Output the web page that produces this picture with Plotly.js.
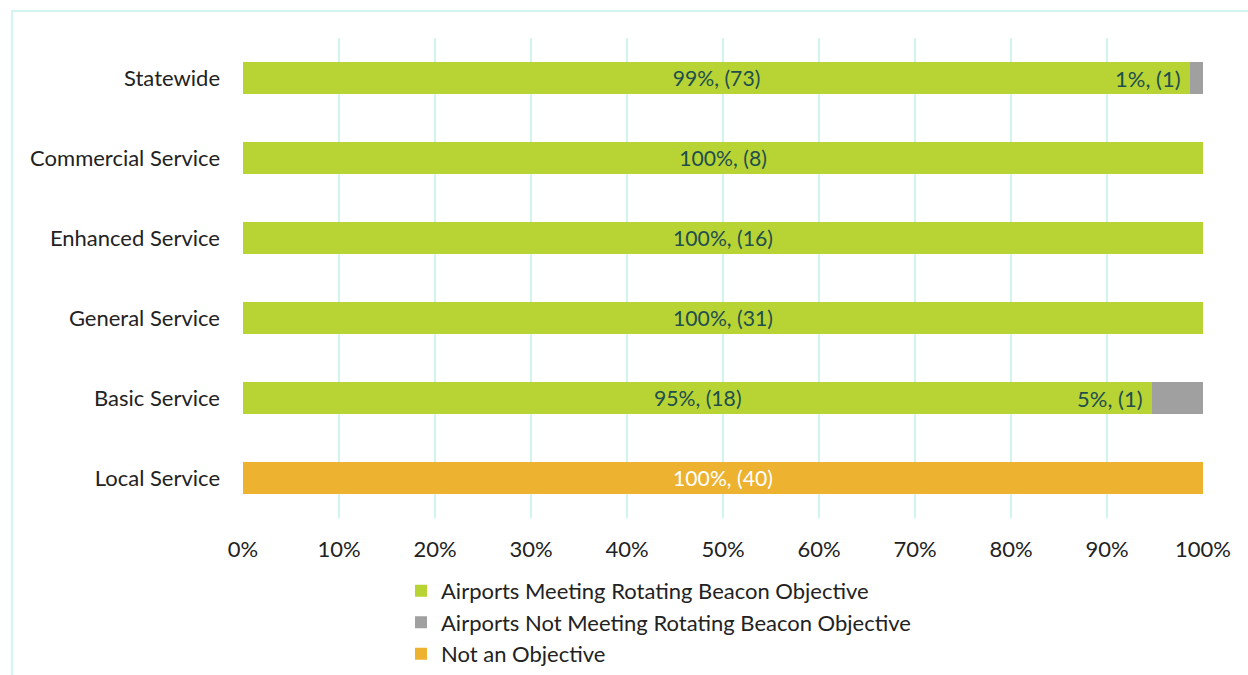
<!DOCTYPE html>
<html>
<head>
<meta charset="utf-8">
<script src="https://cdn.plot.ly/plotly-3.0.1.min.js"></script>
<style>
  html, body { margin: 0; padding: 0; width: 1248px; height: 675px; overflow: hidden; background: #fff; }
  #frame { position: absolute; left: 11px; top: 10px; width: 1260px; height: 700px; border: 2px solid #d2f5ef; box-sizing: border-box; }
  #chart { position: absolute; left: 0; top: 0; width: 1248px; height: 675px; }
</style>
</head>
<body>
<div id="frame"></div>
<div id="chart"></div>
<script>
const categories = ["Statewide", "Commercial Service", "Enhanced Service", "General Service", "Basic Service", "Local Service"];
const meetingCounts = [73, 8, 16, 31, 18, 0];
const notMeetingCounts = [1, 0, 0, 0, 1, 0];
const notObjectiveCounts = [0, 0, 0, 0, 0, 40];
const seriesNames = ["Airports Meeting Rotating Beacon Objective", "Airports Not Meeting Rotating Beacon Objective", "Not an Objective"];
const tickVals = [0, 10, 20, 30, 40, 50, 60, 70, 80, 90, 100];
const tickText = ["0%", "10%", "20%", "30%", "40%", "50%", "60%", "70%", "80%", "90%", "100%"];

const totals = categories.map((c, i) => meetingCounts[i] + notMeetingCounts[i] + notObjectiveCounts[i]);
const pct = arr => arr.map((v, i) => totals[i] ? v / totals[i] * 100 : 0);
const lab = arr => arr.map((v, i) => v ? Math.round(v / totals[i] * 100) + "%, (" + v + ")" : "");

const meetPct = pct(meetingCounts), notPct = pct(notMeetingCounts), noObjPct = pct(notObjectiveCounts);
const FONT = "Lato, 'Open Sans', sans-serif";
const FS = 22;
const labelColor = "#1e4f4e";
const textColor = "#222222";

const traces = [
  { type: "bar", orientation: "h", y: categories, x: meetPct, name: seriesNames[0], legendgroup: "a",
    marker: { color: "#b7d334" }, text: lab(meetingCounts), textposition: "inside", insidetextanchor: "middle",
    textfont: { color: labelColor, size: FS, family: FONT }, hoverinfo: "skip" },
  { type: "bar", orientation: "h", y: categories, x: notPct, name: seriesNames[1], legendgroup: "b",
    marker: { color: "#a0a0a0" }, textposition: "none", hoverinfo: "skip" },
  { type: "bar", orientation: "h", y: categories, x: noObjPct, name: seriesNames[2], legendgroup: "c",
    marker: { color: "#edb22f" }, text: lab(notObjectiveCounts), textposition: "inside", insidetextanchor: "middle",
    textfont: { color: "#ffffff", size: FS, family: FONT }, hoverinfo: "skip" }
];

const annotations = [];
categories.forEach((c, i) => {
  if (notMeetingCounts[i]) {
    annotations.push({ x: meetPct[i], y: c, xref: "x", yref: "y", xanchor: "right", xshift: -7,
      text: Math.round(notPct[i]) + "%, (" + notMeetingCounts[i] + ")", showarrow: false,
      font: { color: labelColor, size: FS, family: FONT } });
  }
});

const layout = {
  width: 1248, height: 675,
  paper_bgcolor: "rgba(0,0,0,0)", plot_bgcolor: "rgba(0,0,0,0)",
  margin: { l: 243, r: 45, t: 38, b: 157, autoexpand: false },
  barmode: "stack", bargap: 0.6,
  font: { family: FONT, size: FS, color: textColor },
  xaxis: { range: [0, 100], tickvals: tickVals, ticktext: tickText, tickangle: 0, showgrid: true, gridcolor: "#cff5ee", gridwidth: 2,
    zeroline: false, showline: false, ticks: "", ticklabelstandoff: 16, tickfont: { size: FS, family: FONT, color: textColor },
    fixedrange: true, automargin: false },
  yaxis: { autorange: "reversed", type: "category", showgrid: false, zeroline: false, showline: false, ticks: "",
    ticklabelstandoff: 22, tickfont: { size: FS, family: FONT, color: textColor }, fixedrange: true, automargin: false },
  showlegend: true,
  legend: { orientation: "v", x: 0.1646, xanchor: "left", y: -0.108, yanchor: "top",
    traceorder: "grouped", tracegroupgap: 0,
    font: { size: FS, family: FONT, color: textColor }, bgcolor: "rgba(0,0,0,0)" },
  annotations: annotations
};

Plotly.newPlot("chart", traces, layout, { displayModeBar: false, staticPlot: true });
</script>
</body>
</html>
